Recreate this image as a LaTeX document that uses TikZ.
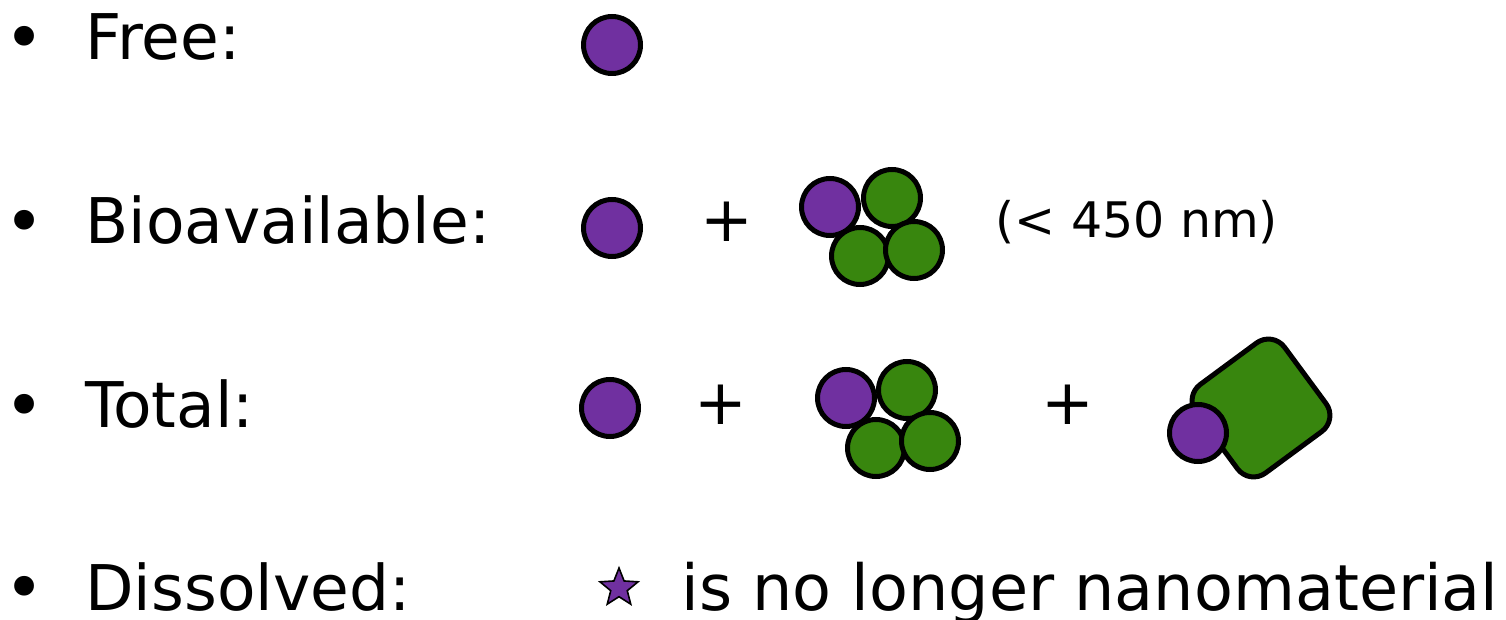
\documentclass[tikz,border=0pt]{standalone}
\usepackage{fontspec}
\setmainfont{DejaVu Sans}
\usetikzlibrary{positioning, shapes.geometric}
\definecolor{npurple}{RGB}{112, 48, 160}
\definecolor{ngreen}{RGB}{56, 134, 14}

\begin{document}
\begin{tikzpicture}[x=0.5pt, y=-0.5pt,
    every node/.style={font=\fontsize{31.5}{38}\selectfont, inner sep=0},
    particle/.style={circle, draw, line width=2.5pt, minimum size=28.5pt},
    np/.style={particle, fill=npurple},
    gp/.style={particle, fill=ngreen}]
    \useasboundingbox (0,0) rectangle (1506,620);

    % Zeilen
    \foreach \n/\t/\y in {free/Free:/60, bio/Bioavailable:/244, tot/Total:/428, dis/Dissolved:/610} {
        \node[anchor=base west, font=\fontsize{34}{38}\selectfont] (bul-\n) at (4.5,\y+1.5) {•};
        \node[anchor=base west] (txt-\n) at (85,\y) {\t};
    }

    % Free
    \node[np] (free-np) at (612,45) {};

    % Bioavailable
    \node[np] (bio-np) at (612,228) {};
    \node (bio-plus) at (727,222) {+};
    \node[np] (bio-a) at (830,207) {};
    \node[gp] (bio-b) at (892,198) {};
    \node[gp] (bio-c) at (860,256) {};
    \node[gp] (bio-d) at (914,250) {};
    \node[anchor=base west, font=\fontsize{24.5}{30}\selectfont] (bio-size) at (995,238) {(< 450 nm)};

    % Total
    \node[np] (tot-np) at (610,408) {};
    \node (tot-plus1) at (721,405) {+};
    \node[np] (tot-a) at (846,398) {};
    \node[gp] (tot-b) at (907,390) {};
    \node[gp] (tot-c) at (876,448) {};
    \node[gp] (tot-d) at (930,441) {};
    \node (tot-plus2) at (1068,405) {+};
    \node[draw, fill=ngreen, line width=2.5pt, rounded corners=10pt, minimum size=55pt,
          rotate=36.4] (tot-bulk) at (1261,408) {};
    \node[np] (tot-att) at (1198,433) {};

    % Dissolved
    \node[star, star points=5, star point ratio=2.3, draw, fill=npurple, line width=0.8pt,
          minimum size=20pt] (dis-star) at (619,588) {};
    \node[anchor=base west, font=\fontsize{31.8}{38}\selectfont] (dis-txt) at (681,610) {is no longer nanomaterial};
\end{tikzpicture}
\end{document}
